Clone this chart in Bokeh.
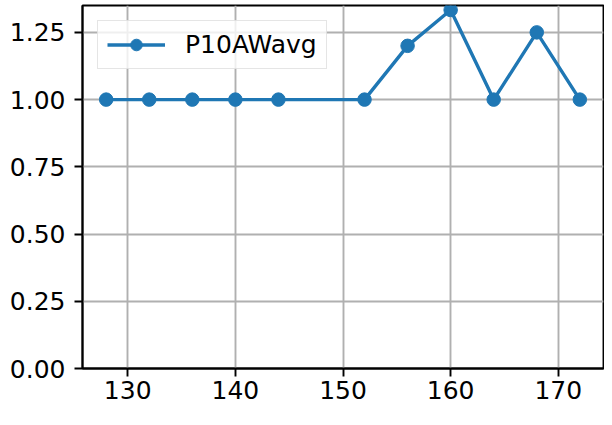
from bokeh.plotting import figure
from bokeh.models import Range1d, FixedTicker, NumeralTickFormatter
from bokeh.embed import file_html
from bokeh.resources import INLINE

x_vals = [128, 132, 136, 140, 144, 152, 156, 160, 164, 168, 172]
y_vals = [1.0, 1.0, 1.0, 1.0, 1.0, 1.0, 1.2, 1.3333, 1.0, 1.25, 1.0]
series_name = "P10AWavg"
x_ticks = [130, 140, 150, 160, 170]
y_ticks = [0.0, 0.25, 0.5, 0.75, 1.0, 1.25]

color = "#1f77b4"
font = "DejaVu Sans"

p = figure(width=604, height=409, output_backend="svg", toolbar_location=None,
           x_range=Range1d(125.8, 174.2), y_range=Range1d(0, 1.35),
           min_border_left=82, min_border_right=1, min_border_top=5, min_border_bottom=41)

p.line(x_vals, y_vals, line_color=color, line_width=3.4, legend_label=series_name)
p.scatter(x_vals, y_vals, size=13.5, fill_color=color, line_color=color, legend_label=series_name)

for ax in (p.xaxis[0], p.yaxis[0]):
    ax.major_label_text_font = font
    ax.major_label_text_font_size = "25px"
    ax.major_label_text_color = "black"
    ax.axis_line_color = "black"
    ax.axis_line_width = 1.9
    ax.major_tick_line_color = "black"
    ax.major_tick_line_width = 1.9
    ax.major_tick_out = 8
    ax.major_tick_in = 0
    ax.minor_tick_line_color = None

p.xaxis[0].major_label_standoff = 4
p.yaxis[0].major_label_standoff = 9

p.xaxis[0].ticker = FixedTicker(ticks=x_ticks)
p.yaxis[0].ticker = FixedTicker(ticks=y_ticks)
p.yaxis[0].formatter = NumeralTickFormatter(format="0.00")

p.xgrid.ticker = FixedTicker(ticks=x_ticks)
p.ygrid.ticker = FixedTicker(ticks=y_ticks)
for g in (p.xgrid[0], p.ygrid[0]):
    g.grid_line_color = "#b0b0b0"
    g.grid_line_width = 1.9

p.outline_line_color = "black"
p.outline_line_width = 1.9
p.outline_line_alpha = 1.0

leg = p.legend[0]
leg.location = "top_left"
leg.margin = 15
leg.padding = 9
leg.spacing = 0
leg.glyph_width = 58
leg.glyph_height = 29
leg.label_height = 29
leg.label_text_font = font
leg.label_text_font_size = "25px"
leg.label_text_color = "black"
leg.label_standoff = 20
leg.border_line_color = "#cccccc"
leg.border_line_width = 1.6
leg.background_fill_alpha = 0.8

p.background_fill_color = "white"
p.border_fill_color = "white"

open("out.html", "w").write(file_html(p, INLINE))
